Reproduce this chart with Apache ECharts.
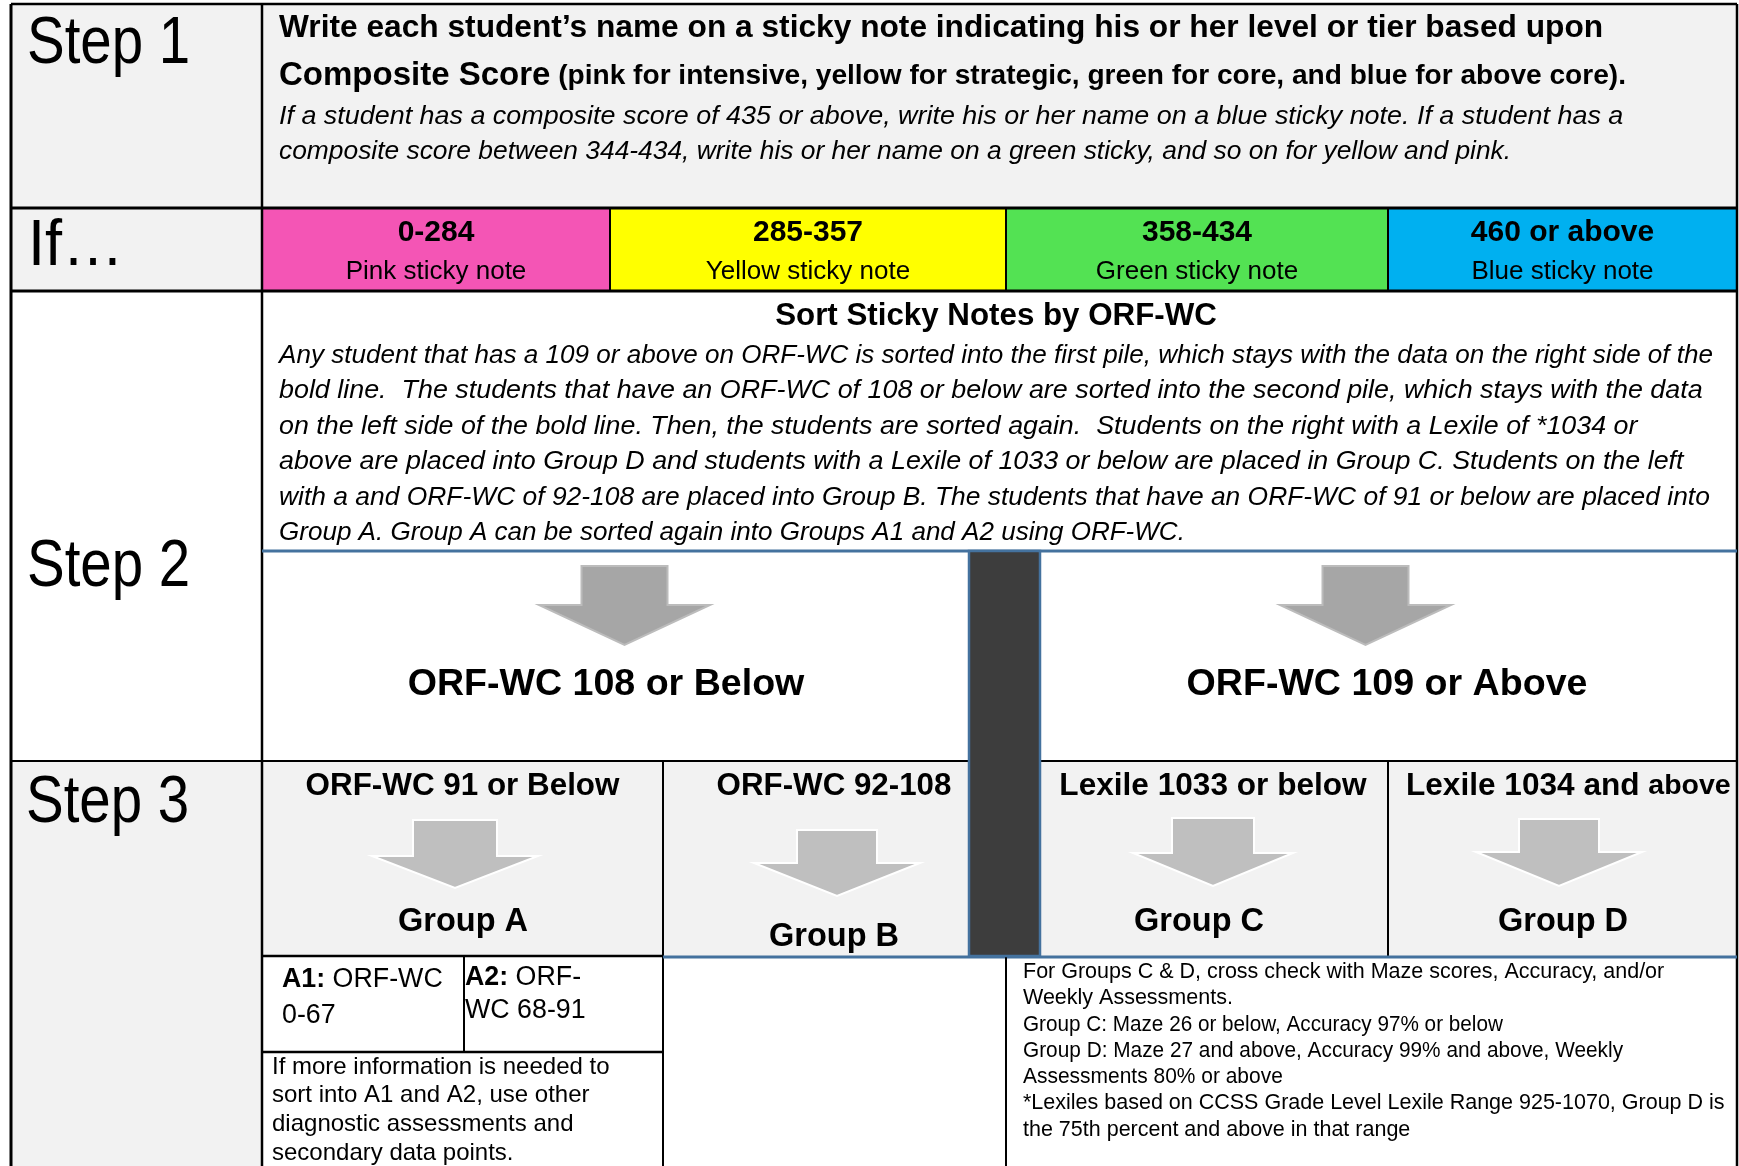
<!DOCTYPE html>
<html><head><meta charset="utf-8">
<script src="https://cdn.jsdelivr.net/npm/echarts@6/dist/echarts.min.js"></script>
<style>html,body{margin:0;padding:0;background:#fff;overflow:hidden}#c{width:1739px;height:1166px}</style>
</head><body><div id="c"></div>
<script>
// ---------- content ----------
const stepLabels = ['Step 1', 'If\u2026', 'Step 2', 'Step 3'];
const step1Heading = 'Write each student\u2019s name on a sticky note indicating his or her level or tier based upon';
const step1Key = 'Composite Score';
const step1KeyNote = '(pink for intensive, yellow for strategic, green for core, and blue for above core).';
const step1Lines = [
  'If a student has a composite score of 435 or above, write his or her name on a blue sticky note. If a student has a',
  'composite score between 344-434, write his or her name on a green sticky, and so on for yellow and pink.'
];
const tierRanges = ['0-284', '285-357', '358-434', '460 or above'];
const tierNotes = ['Pink sticky note', 'Yellow sticky note', 'Green sticky note', 'Blue sticky note'];
const sortTitle = 'Sort Sticky Notes by ORF-WC';
const sortLines = [
  'Any student that has a 109 or above on ORF-WC is sorted into the first pile, which stays with the data on the right side of the',
  'bold line.  The students that have an ORF-WC of 108 or below are sorted into the second pile, which stays with the data',
  'on the left side of the bold line. Then, the students are sorted again.  Students on the right with a Lexile of *1034 or',
  'above are placed into Group D and students with a Lexile of 1033 or below are placed in Group C. Students on the left',
  'with a and ORF-WC of 92-108 are placed into Group B. The students that have an ORF-WC of 91 or below are placed into',
  'Group A. Group A can be sorted again into Groups A1 and A2 using ORF-WC.'
];
const pileLabels = ['ORF-WC 108 or Below', 'ORF-WC 109 or Above'];
const groupCriteria = ['ORF-WC 91 or Below', 'ORF-WC 92-108', 'Lexile 1033 or below', 'Lexile 1034 and ', 'above'];
const groupNames = ['Group A', 'Group B', 'Group C', 'Group D'];
const subGroupA1 = ['A1:', ' ORF-WC', '0-67'];
const subGroupA2 = ['A2:', ' ORF-', 'WC 68-91'];
const groupANote = [
  'If more information is needed to',
  'sort into A1 and A2, use other',
  'diagnostic assessments and',
  'secondary data points.'
];
const groupCDNote = [
  'For Groups C & D, cross check with Maze scores, Accuracy, and/or',
  'Weekly Assessments.',
  'Group C: Maze 26 or below, Accuracy 97% or below',
  'Group D: Maze 27 and above, Accuracy 99% and above, Weekly',
  'Assessments 80% or above',
  '*Lexiles based on CCSS Grade Level Lexile Range 925-1070, Group D is',
  'the 75th percent and above in that range'
];

// ---------- styles ----------
const FF = '"Liberation Sans", Arial, Helvetica, sans-serif';
const tierColors = ['#f455b5', '#ffff00', '#53e253', '#00b0f0'];
const GRAY = '#f2f2f2', BLUE = '#44729e', DARK = '#3d3d3d';
const cdNoteSqueeze = [1, 1, 0.963, 0.968, 0.975, 1, 1];
const step1Squeeze = [1.008, 0.988];
const sortSqueeze = [0.991, 1.022, 1.02, 1.021, 1.004, 0.99];

const els = [];
function rect(x, y, w, h, fill, stroke, lw) {
  els.push({type: 'rect', shape: {x, y, width: w, height: h},
    style: {fill, stroke: stroke || null, lineWidth: lw || 0}, silent: true});
}
function line(x1, y1, x2, y2, color, lw) {
  els.push({type: 'line', shape: {x1, y1, x2, y2}, style: {stroke: color, lineWidth: lw}, silent: true});
}
function txt(x, y, text, size, o) {
  o = o || {};
  const e = {type: 'text', x, y, silent: true,
    style: {text, fontSize: size, fontFamily: FF, fontWeight: o.bold ? 'bold' : 'normal',
      fontStyle: o.italic ? 'italic' : 'normal', fill: '#000',
      align: o.align || 'left', verticalAlign: 'middle'}};
  if (o.rich) e.style.rich = o.rich;
  if (o.scaleX) e.scaleX = o.scaleX;
  els.push(e);
}
function arrow(cx, top, shoulder, tip, sh, hh, fill, stroke) {
  els.push({type: 'polygon', silent: true,
    shape: {points: [[cx - sh, top], [cx + sh, top], [cx + sh, shoulder], [cx + hh, shoulder],
      [cx, tip], [cx - hh, shoulder], [cx - sh, shoulder]]},
    style: {fill, stroke, lineWidth: 2, lineJoin: 'miter'}});
}

// ---------- backgrounds ----------
rect(11, 4, 1726, 204, GRAY);              // step 1 row
rect(11, 208, 251, 83, GRAY);              // If label
const tierX = [262, 610, 1006, 1388, 1737];
for (let i = 0; i < 4; i++) rect(tierX[i], 208, tierX[i + 1] - tierX[i], 83, tierColors[i]);
rect(11, 291, 1726, 470, '#ffffff');       // step 2 row
rect(11, 761, 251, 405, GRAY);             // step 3 label
rect(262, 761, 1475, 195, GRAY);           // step 3 headers
rect(262, 956, 1475, 210, '#ffffff');

// ---------- grid lines ----------
line(11, 4, 1737, 4, '#000', 2.5);
line(11, 4, 11, 1166, '#000', 3);
line(262, 4, 262, 1166, '#000', 2.5);
line(1737, 4, 1737, 1166, '#000', 2.5);
line(11, 208, 1737, 208, '#000', 3);
line(11, 291, 1737, 291, '#000', 3);
for (let i = 1; i < 4; i++) line(tierX[i], 208, tierX[i], 291, '#000', 2);
line(262, 551, 1737, 551, BLUE, 3);
line(11, 761, 969, 761, '#000', 2);
line(1040, 761, 1737, 761, '#000', 2);
line(663, 761, 663, 1166, '#000', 2);
line(1388, 761, 1388, 956, '#000', 2);
line(262, 956, 663, 956, '#000', 2.5);
line(663, 957, 1737, 957, BLUE, 3);
line(464, 956, 464, 1052, '#000', 2);
line(262, 1052, 663, 1052, '#000', 2.5);
line(1006, 957, 1006, 1166, '#000', 2);
rect(969, 551, 71, 405, DARK, BLUE, 2.5);   // bold divider line

// ---------- step labels ----------
txt(27, 45, stepLabels[0], 66, {scaleX: 0.855});
txt(28, 247, stepLabels[1], 64, {scaleX: 0.96});
txt(27, 568, stepLabels[2], 66, {scaleX: 0.855});
txt(26, 804, stepLabels[3], 66, {scaleX: 0.855});

// ---------- step 1 ----------
txt(279, 28.5, step1Heading, 31.7, {bold: true});
txt(279, 76, '{k|' + step1Key + '} ' + step1KeyNote, 28.1, {bold: true,
  rich: {k: {fontSize: 33, fontWeight: 'bold', fontFamily: FF, fill: '#000'}}});
txt(279, 116.5, step1Lines[0], 26.7, {italic: true, scaleX: step1Squeeze[0]});
txt(279, 152, step1Lines[1], 26.7, {italic: true, scaleX: step1Squeeze[1]});

// ---------- tiers ----------
for (let i = 0; i < 4; i++) {
  const cx = (tierX[i] + tierX[i + 1]) / 2;
  txt(cx, 232.5, tierRanges[i], 30, {bold: true, align: 'center'});
  txt(cx, 272, tierNotes[i], 26, {align: 'center'});
}

// ---------- step 2 ----------
txt(996, 316, sortTitle, 31.3, {bold: true, align: 'center'});
sortLines.forEach((s, i) => txt(279, 355.5 + 35.5 * i, s, 26.3, {italic: true, scaleX: sortSqueeze[i]}));
arrow(624.5, 566, 605, 645, 43, 85.5, '#a6a6a6', '#bcbcbc');
arrow(1365.5, 566, 605, 645, 43, 85.5, '#a6a6a6', '#bcbcbc');
txt(606, 685, pileLabels[0], 37.6, {bold: true, align: 'center'});
txt(1387, 685, pileLabels[1], 37.6, {bold: true, align: 'center'});

// ---------- step 3 ----------
txt(462.5, 786, groupCriteria[0], 31.4, {bold: true, align: 'center'});
txt(834, 786, groupCriteria[1], 31.3, {bold: true, align: 'center'});
txt(1213, 786, groupCriteria[2], 31.6, {bold: true, align: 'center'});
txt(1406, 786, groupCriteria[3] + '{s|' + groupCriteria[4] + '}', 31.6, {bold: true,
  rich: {s: {fontSize: 28.5, fontWeight: 'bold', fontFamily: FF, fill: '#000'}}});
arrow(455, 820, 856, 888, 42, 83, '#bfbfbf', '#ffffff');
arrow(837, 830, 863, 896, 40, 83, '#bfbfbf', '#ffffff');
arrow(1213, 818, 853, 886, 41, 80, '#bfbfbf', '#ffffff');
arrow(1559, 819, 852, 886, 40, 83, '#bfbfbf', '#ffffff');
txt(463, 922, groupNames[0], 32.5, {bold: true, align: 'center'});
txt(834, 937, groupNames[1], 32.5, {bold: true, align: 'center'});
txt(1199, 922, groupNames[2], 32.5, {bold: true, align: 'center'});
txt(1563, 922, groupNames[3], 32.5, {bold: true, align: 'center'});

const boldRich = {b: {fontSize: 26.8, fontWeight: 'bold', fontFamily: FF, fill: '#000'}};
txt(282, 980, '{b|' + subGroupA1[0] + '}' + subGroupA1[1], 26.8, {rich: boldRich});
txt(282, 1016, subGroupA1[2], 26.8);
txt(465, 978, '{b|' + subGroupA2[0] + '}' + subGroupA2[1], 26.8, {rich: boldRich});
txt(465, 1011, subGroupA2[2], 26.8);
groupANote.forEach((s, i) => txt(272, 1067 + 28.8 * i, s, 24));
groupCDNote.forEach((s, i) => txt(1023, 972 + 26.3 * i, s, 21.5, {scaleX: cdNoteSqueeze[i]}));

const chart = echarts.init(document.getElementById('c'), null, {renderer: 'canvas'});
chart.setOption({animation: false, graphic: {elements: els}});
</script>
</body></html>
